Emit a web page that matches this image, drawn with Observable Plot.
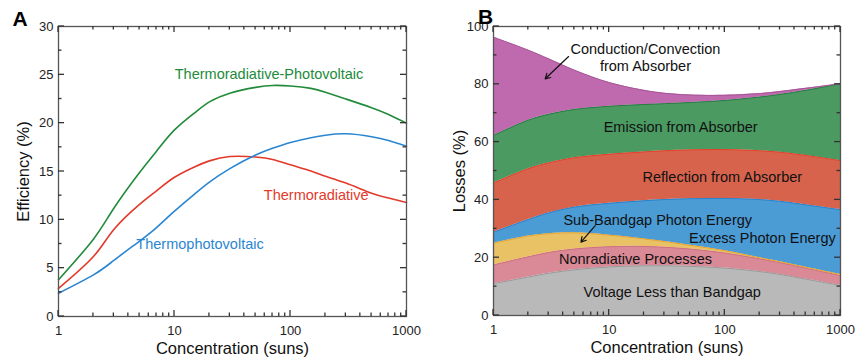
<!DOCTYPE html>
<html><head><meta charset="utf-8">
<script src="https://cdn.jsdelivr.net/npm/d3@7"></script>
<script src="https://cdn.jsdelivr.net/npm/@observablehq/plot@0.6"></script>
<style>
body{margin:0;background:#fff;}
#wrap{display:flex;width:855px;height:358px;overflow:hidden;}
#wrap svg{display:block;}
</style></head><body><div id="wrap"></div>
<script>
// ---- Panel A: efficiency (%) vs concentration (suns)
const concA = [1, 2, 3, 5, 7, 10, 15, 20, 30, 50, 70, 100, 150, 200, 300, 500, 700, 1000];
const effTRPV = [3.8, 8.0, 11.2, 14.9, 17.1, 19.3, 21.1, 22.2, 23.1, 23.7, 23.9, 23.85, 23.6, 23.2, 22.5, 21.6, 20.9, 20.0];
const effTR   = [2.9, 6.2, 9.0, 11.6, 13.0, 14.4, 15.5, 16.1, 16.55, 16.5, 16.25, 15.7, 15.05, 14.5, 13.8, 12.75, 12.25, 11.8];
const effTPV  = [2.4, 4.3, 5.8, 7.8, 9.2, 10.9, 12.7, 13.9, 15.3, 16.7, 17.4, 18.0, 18.5, 18.75, 18.9, 18.6, 18.2, 17.6];

// ---- Panel B: cumulative losses (%) — top edge of each band
const concB = [1, 2, 3, 5, 10, 20, 30, 50, 100, 200, 300, 500, 1000];
const voltageTop    = [11.0, 13.3, 14.6, 15.8, 16.8, 17.2, 17.2, 17.0, 16.4, 15.2, 14.2, 12.6, 10.4];
const nonradTop     = [17.5, 20.3, 21.8, 23.0, 23.8, 23.9, 23.6, 23.0, 21.6, 19.6, 18.3, 16.4, 13.8];
const subBandgapTop = [25.0, 27.5, 28.3, 28.6, 27.8, 26.5, 25.6, 24.3, 22.4, 20.0, 18.6, 16.7, 14.2];
const excessTop     = [28.8, 33.2, 35.5, 37.5, 38.8, 39.7, 40.1, 40.4, 40.5, 40.1, 39.5, 38.3, 36.6];
const reflectionTop = [45.8, 50.8, 52.8, 54.6, 55.8, 56.6, 57.0, 57.3, 57.4, 57.0, 56.5, 55.4, 53.6];
const emissionTop   = [62.3, 67.6, 69.6, 71.3, 72.4, 73.0, 73.3, 73.7, 74.4, 75.6, 76.5, 77.9, 80.2];
const conductionTop = [96.3, 91.8, 88.8, 84.9, 80.6, 77.9, 76.9, 76.3, 76.2, 76.8, 77.5, 78.6, 80.2];

// ---- Tick labels
const xTickLabels = [1, 10, 100, 1000];
const yTicksA = [0, 5, 10, 15, 20, 25, 30];
const yTicksB = [0, 20, 40, 60, 80, 100];
const yMinorA = [2.5, 7.5, 12.5, 17.5, 22.5, 27.5];
const yMinorB = [10, 30, 50, 70, 90];

const FONT = "'Liberation Sans', Arial, Helvetica, sans-serif";
const AX = "#333";
const minorX = [];
for (const d of [1, 10, 100]) for (let k = 2; k <= 9; k++) minorX.push(d * k);

function axes(yTicks, yLabel, letter, letterDx, letterDy, ylabDx) {
  return [
    Plot.axisX(xTickLabels, {anchor: "bottom", tickSize: 0, tickPadding: 9, tickFormat: d => String(d), label: null, fill: "#222"}),
    Plot.axisY(yTicks, {anchor: "left", tickSize: 0, tickPadding: 5, label: null, fill: "#222"}),
    Plot.text(["Concentration (suns)"], {text: d => d, frameAnchor: "bottom", lineAnchor: "middle", textAnchor: "middle", dy: 32, fontSize: 16.5, fill: "#111"}),
    Plot.text([yLabel], {text: d => d, frameAnchor: "left", lineAnchor: "middle", textAnchor: "middle", rotate: -90, dx: ylabDx, fontSize: 16.5, fill: "#111"}),
    Plot.text([letter], {text: d => d, frameAnchor: "top-left", lineAnchor: "middle", textAnchor: "middle", dx: letterDx, dy: letterDy, fontSize: 21, fontWeight: "bold", fill: "#000"}),
    Plot.frame({stroke: "#555", strokeWidth: 1.3})
  ];
}

// inward ticks on all four sides, positioned with the plot's own scales
function addTicks(svg, yMajor, yMinor) {
  const sx = svg.scale("x"), sy = svg.scale("y");
  const [xl, xr] = sx.range, [yb, yt] = sy.range;
  const g = d3.select(svg).append("g").attr("stroke", AX).attr("stroke-width", 1.3).attr("fill", "none");
  const seg = (x1, y1, x2, y2) => g.append("line").attr("x1", x1).attr("y1", y1).attr("x2", x2).attr("y2", y2);
  for (const [xs, len] of [[xTickLabels, 6], [minorX, 3.5]]) {
    for (const v of xs) {
      const px = sx.apply(v);
      seg(px, yb, px, yb - len);
      seg(px, yt, px, yt + len);
    }
  }
  for (const [ys, len] of [[yMajor, 6], [yMinor, 3.5]]) {
    for (const v of ys) {
      const py = sy.apply(v);
      seg(xl, py, xl + len, py);
      seg(xr, py, xr - len, py);
    }
  }
}

const style = {fontFamily: FONT, fontSize: "13px", background: "white", color: "#222", overflow: "visible"};

// Panel A
const WA = 427, H = 358;
const lines = [
  {y: effTRPV, c: "#228b3b"},
  {y: effTR, c: "#e2392a"},
  {y: effTPV, c: "#2a86d1"}
];
const plotA = Plot.plot({
  width: WA, height: H,
  marginLeft: 58, marginRight: 21, marginTop: 26, marginBottom: 42,
  style,
  x: {type: "log", domain: [1, 1000]},
  y: {domain: [0, 30]},
  marks: [
    ...lines.map(s => Plot.line(concA, {x: concA, y: s.y, stroke: s.c, strokeWidth: 1.6, curve: "natural"})),
    Plot.text(["Thermoradiative-Photovoltaic"], {text: d => d, x: () => 65.3, y: () => 25.05, fill: "#228b3b", fontSize: 14.5}),
    Plot.text(["Thermoradiative"], {text: d => d, x: () => 166.7, y: () => 12.5, fill: "#e2392a", fontSize: 14.5}),
    Plot.text(["Thermophotovoltaic"], {text: d => d, x: () => 16.6, y: () => 7.5, fill: "#2a86d1", fontSize: 14.5}),
    ...axes(yTicksA, "Efficiency (%)", "A", -38.5, -7, -35)
  ]
});

// Panel B
const WB = 428;
const zeros = concB.map(() => 0);
const bands = [
  {lo: zeros, hi: voltageTop, fill: "#b9b9b9", edge: "#9a9a9a"},
  {lo: voltageTop, hi: nonradTop, fill: "#da8996", edge: "#cf6f80"},
  {lo: nonradTop, hi: subBandgapTop, fill: "#e9c266", edge: "#e8a430"},
  {lo: subBandgapTop, hi: excessTop, fill: "#4b9bd5", edge: "#2a82cb"},
  {lo: excessTop, hi: reflectionTop, fill: "#d8634c", edge: "#e6402a"},
  {lo: reflectionTop, hi: emissionTop, fill: "#4a9a62", edge: "#2c7a44"},
  {lo: emissionTop, hi: conductionTop, fill: "#bf6aaf", edge: "#a75597"}
];
const lab = (t, x, y) => Plot.text([t], {text: d => d, x: () => x, y: () => y, fill: "#111", fontSize: 14.5, lineHeight: 1.15});
const plotB = Plot.plot({
  width: WB, height: H,
  marginLeft: 66, marginRight: 15, marginTop: 26, marginBottom: 43,
  style,
  x: {type: "log", domain: [1, 1000]},
  y: {domain: [0, 100]},
  marks: [
    ...bands.map(b => Plot.areaY(concB, {x: concB, y1: b.lo, y2: b.hi, fill: b.fill, curve: "catmull-rom"})),
    ...bands.map(b => Plot.line(concB, {x: concB, y: b.hi, stroke: b.edge, strokeWidth: 1, curve: "catmull-rom"})),
    lab("Conduction/Convection\nfrom Absorber", 20.6, 89.3),
    lab("Emission from Absorber", 41.5, 65.4),
    lab("Reflection from Absorber", 95.1, 47.9),
    lab("Sub-Bandgap Photon Energy", 26.3, 33.1),
    lab("Excess Photon Energy", 211, 27.1),
    lab("Nonradiative Processes", 16.9, 19.8),
    lab("Voltage Less than Bandgap", 35.1, 8.4),
    Plot.arrow([0], {x1: () => 4.46, y1: () => 89.6, x2: () => 2.8, y2: () => 81.9, stroke: "#111", strokeWidth: 1.2, headLength: 7}),
    Plot.arrow([0], {x1: () => 7.58, y1: () => 31.1, x2: () => 5.7, y2: () => 25.4, stroke: "#111", strokeWidth: 1.2, headLength: 7}),
    ...axes(yTicksB, "Losses (%)", "B", -8, -9.5, -34)
  ]
});

addTicks(plotA, yTicksA, yMinorA);
addTicks(plotB, yTicksB, yMinorB);

const wrap = document.getElementById("wrap");
wrap.appendChild(plotA);
wrap.appendChild(plotB);
</script>
</body></html>
